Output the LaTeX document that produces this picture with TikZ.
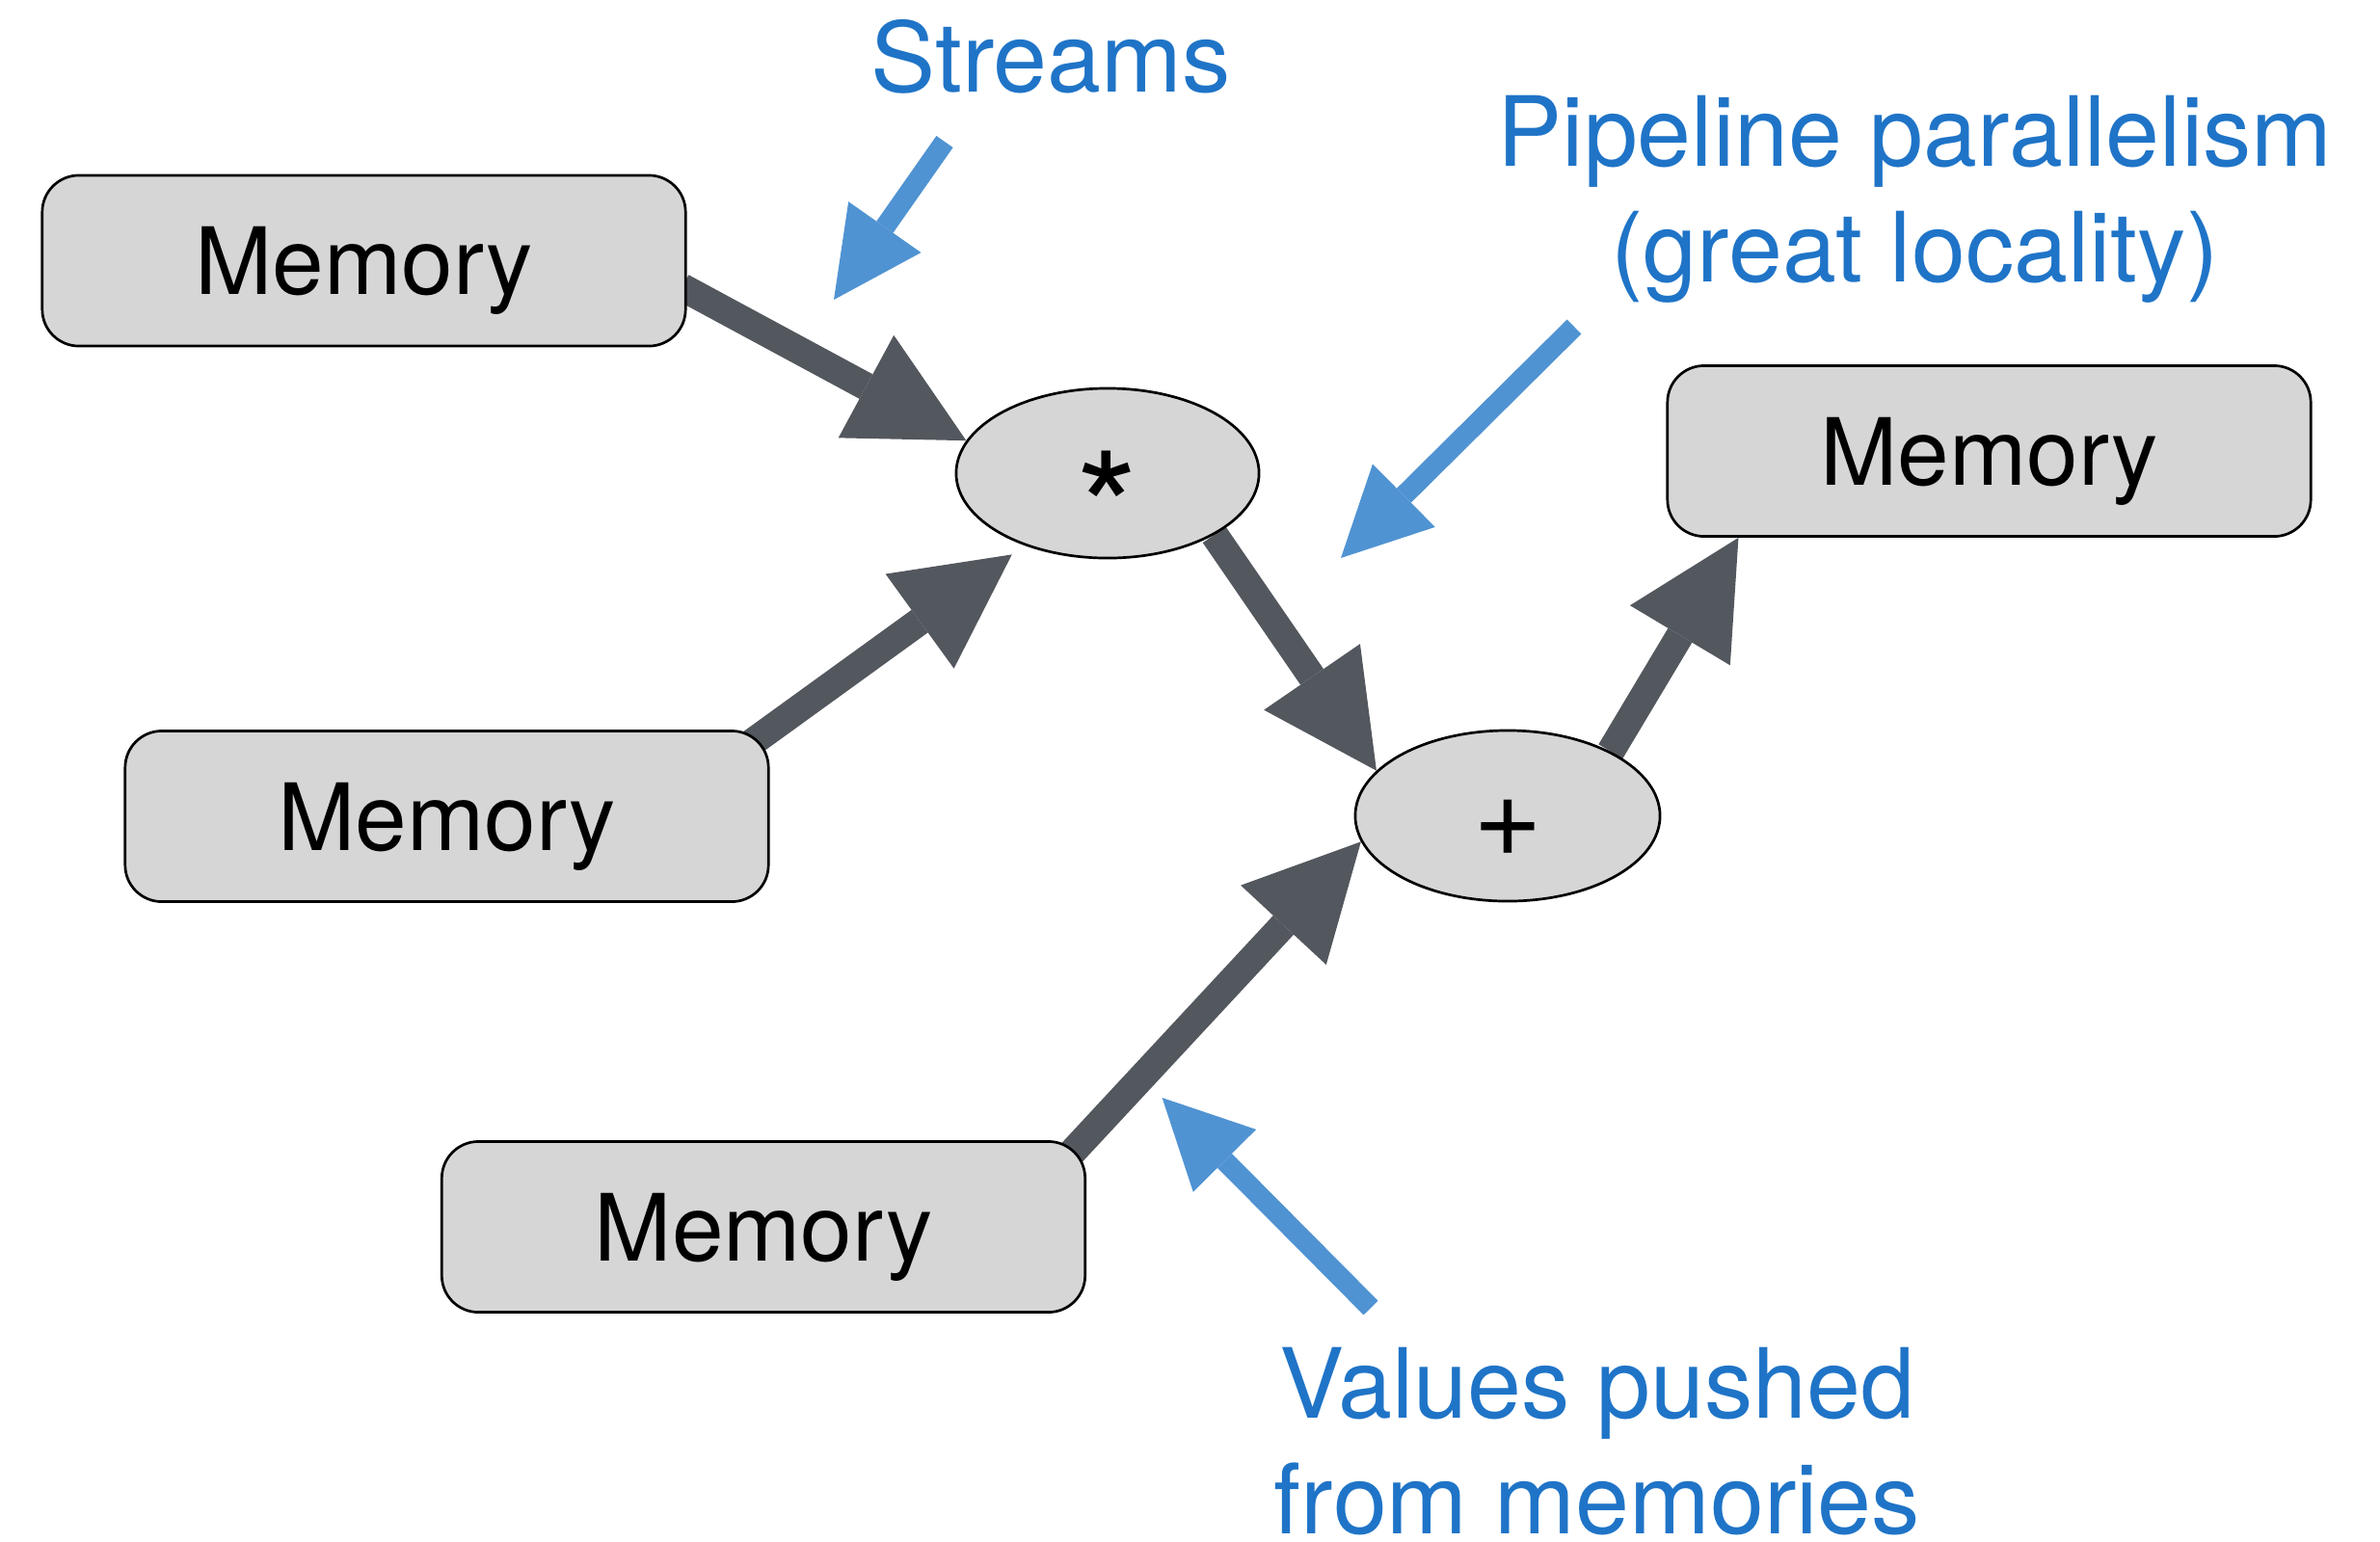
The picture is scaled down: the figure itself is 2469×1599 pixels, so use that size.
\documentclass[tikz,border=0pt]{standalone}
\usepackage{fontspec}
\setmainfont{TeX Gyre Heros}
\usetikzlibrary{arrows.meta,calc,shapes.geometric,backgrounds}
\definecolor{arrowgray}{HTML}{53575E}
\definecolor{bluearrow}{HTML}{5093D2}
\definecolor{bluetext}{HTML}{1F74C7}
\definecolor{boxgray}{HTML}{D6D6D6}
\begin{document}
\begin{tikzpicture}[x=0.01cm,y=-0.01cm,
  mem/.style={draw=black, fill=boxgray, line width=0.027cm, rounded corners=0.38cm,
    minimum width=6.67cm, minimum height=1.77cm, inner sep=0pt, text depth=0pt,
    font=\fontsize{27.4}{32}\selectfont},
  op/.style={draw=black, fill=boxgray, ellipse, line width=0.027cm, inner sep=0pt},
  flow/.style={draw=arrowgray, line width=0.29cm,
    -{Triangle[length=1.18cm,width=1.21cm,line width=0pt]}},
  note/.style={draw=bluearrow, line width=0.21cm,
    -{Triangle[length=0.92cm,width=0.92cm,line width=0pt]}},
  notetext/.style={text=bluetext, font=\fontsize{28.6}{34.14}\selectfont,
    align=center, inner sep=0pt, anchor=base}
]
\useasboundingbox (0,0) rectangle (2469,1599);

\node[mem] (m1) at (377.5,270.5) {Memory};
\node[mem] (m2) at (463.5,847) {Memory};
\node[mem] (m3) at (792,1273) {Memory};
\node[mem] (m4) at (2063.5,468) {Memory};

\node[op, minimum width=3.14cm, minimum height=1.76cm] (mul) at (1149,491)
  {\smash{\raisebox{-0.975cm}{\fontsize{47}{50}\selectfont *}}};
\node[op, minimum width=3.16cm, minimum height=1.77cm] (plus) at (1564,846.5)
  {\smash{\raisebox{-0.42cm}{\fontsize{35}{40}\selectfont +}}};

\begin{scope}[on background layer]
  \draw[flow] ($(m1.east)+(-5,27.5)$) -- (mul.167);
  \draw[flow, shorten >=0.16cm] ($(m2.north east)+(-22,16)$) -- (mul.221);
  \draw[flow] (mul.-30) -- (plus.161);
  \draw[flow] ($(m3.north east)+(-18,16)$) -- (plus.190);
  \draw[flow] (plus.32) -- ($(m4.south west)+(75,0)$);
\end{scope}

\node[notetext] (tstreams) at (1090,95) {Streams};
\node[notetext] (tpipe) at (1986.5,292.8) {Pipeline parallelism\\(great locality)};
\node[notetext] (tvalues) at (1657,1591.7) {Values pushed\\from memories};

\coordinate (s1) at (980,147);
\coordinate (s2) at (865,311);
\draw[note] (s1) -- (s2);
\coordinate (p1) at (1633,339);
\coordinate (p2) at (1391,579);
\draw[note] (p1) -- (p2);
\coordinate (v1) at (1422,1357);
\coordinate (v2) at (1205.6,1139);
\draw[note] (v1) -- (v2);
\end{tikzpicture}
\end{document}
